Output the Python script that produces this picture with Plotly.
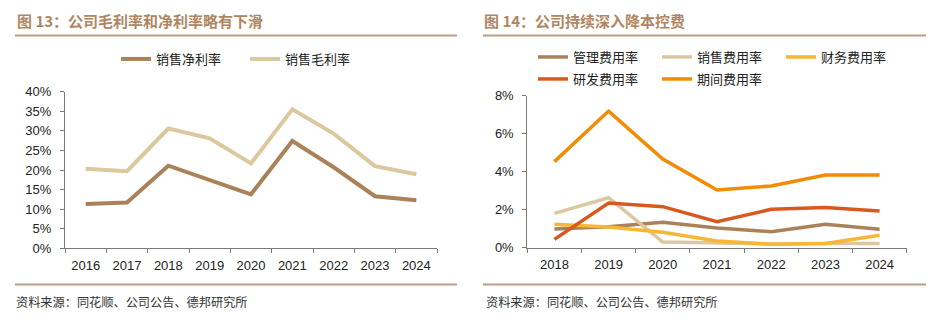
import plotly.graph_objects as go

W, H = 931, 324

# ---------------- data ----------------
years_left = ["2016", "2017", "2018", "2019", "2020", "2021", "2022", "2023", "2024"]
net_margin = [0.113, 0.117, 0.211, 0.174, 0.138, 0.274, 0.207, 0.133, 0.123]
gross_margin = [0.203, 0.197, 0.306, 0.281, 0.217, 0.355, 0.293, 0.210, 0.189]

years_right = ["2018", "2019", "2020", "2021", "2022", "2023", "2024"]
admin_rate = [0.0098, 0.0110, 0.0134, 0.0104, 0.0084, 0.0123, 0.0097]
sales_rate = [0.0181, 0.0263, 0.0030, 0.0025, 0.0020, 0.0022, 0.0022]
fin_rate = [0.0123, 0.0109, 0.0081, 0.0035, 0.0018, 0.0022, 0.0065]
rd_rate = [0.0044, 0.0235, 0.0216, 0.0137, 0.0202, 0.0212, 0.0193]
period_rate = [0.0453, 0.0719, 0.0467, 0.0304, 0.0325, 0.0383, 0.0383]

left_title = "图 13：公司毛利率和净利率略有下滑"
right_title = "图 14：公司持续深入降本控费"
source_text = "资料来源：同花顺、公司公告、德邦研究所"

# ---------------- styles ----------------
C_BROWN = "#A98259"
C_BEIGE = "#DBC89F"
C_YELLOW = "#F7B733"
C_RED = "#D9581F"
C_ORANGE = "#F28C05"
C_RULE = "#BE9E83"
C_TITLE = "#B08662"
CJK = "Noto Sans CJK SC"
LAT = "Liberation Sans, Arial, sans-serif"


def px(x):
    return x / W


def py(y):
    return 1 - y / H


fig = go.Figure()

fig.add_trace(go.Scatter(x=years_left, y=net_margin, name="销售净利率", mode="lines",
                         line=dict(color=C_BROWN, width=4), xaxis="x", yaxis="y",
                         legend="legend"))
fig.add_trace(go.Scatter(x=years_left, y=gross_margin, name="销售毛利率", mode="lines",
                         line=dict(color=C_BEIGE, width=4), xaxis="x", yaxis="y",
                         legend="legend"))

right_series = [
    ("管理费用率", admin_rate, C_BROWN, "legend2"),
    ("销售费用率", sales_rate, C_BEIGE, "legend2"),
    ("财务费用率", fin_rate, C_YELLOW, "legend2"),
    ("研发费用率", rd_rate, C_RED, "legend3"),
    ("期间费用率", period_rate, C_ORANGE, "legend3"),
]
for name, vals, col, leg in right_series:
    fig.add_trace(go.Scatter(x=years_right, y=vals, name=name, mode="lines",
                             line=dict(color=col, width=3.5), xaxis="x2", yaxis="y2",
                             legend=leg))

axis_common = dict(
    showline=True, linecolor="#7a7a7a", linewidth=1,
    ticks="outside", ticklen=4, tickcolor="#7a7a7a", tickwidth=1,
    showgrid=False, zeroline=False,
    tickfont=dict(family=LAT, size=13, color="#222222"),
)

legend_common = dict(
    orientation="h", xref="container", yref="container",
    xanchor="left", yanchor="middle",
    font=dict(family=CJK, size=13, color="#222222"),
    entrywidthmode="pixels", bgcolor="rgba(0,0,0,0)",
)

fig.update_layout(
    width=W, height=H,
    margin=dict(l=0, r=0, t=0, b=0, autoexpand=False),
    paper_bgcolor="white", plot_bgcolor="white",
    showlegend=True,
    xaxis=dict(domain=[px(65), px(437)], type="category", tickson="boundaries",
               range=[-0.5, 8.5], anchor="y", ticklabelstandoff=5, **axis_common),
    yaxis=dict(domain=[py(248.3), py(91.7)], range=[0, 0.40], dtick=0.05,
               tickformat=".0%", anchor="x", ticklabelstandoff=6, **axis_common),
    xaxis2=dict(domain=[px(527.3), px(906.7)], type="category", tickson="boundaries",
                range=[-0.5, 6.5], anchor="y2", ticklabelstandoff=5, **axis_common),
    yaxis2=dict(domain=[py(247.7), py(95.7)], range=[0, 0.08], dtick=0.02,
                tickformat=".0%", anchor="x2", ticklabelstandoff=6, **axis_common),
    legend=dict(x=px(116), y=py(59), entrywidth=84, **legend_common),
    legend2=dict(x=px(533), y=py(57), entrywidth=79, **legend_common),
    legend3=dict(x=px(533), y=py(79), entrywidth=79, **legend_common),
)

# titles
fig.add_annotation(x=px(15), y=py(21), xref="paper", yref="paper", xanchor="left",
                   yanchor="middle", showarrow=False, text="<b>" + left_title + "</b>",
                   font=dict(family=CJK, size=15, color=C_TITLE))
fig.add_annotation(x=px(482), y=py(21), xref="paper", yref="paper", xanchor="left",
                   yanchor="middle", showarrow=False, text="<b>" + right_title + "</b>",
                   font=dict(family=CJK, size=15, color=C_TITLE))

# source notes
for x0 in (14, 484):
    fig.add_annotation(x=px(x0), y=py(302), xref="paper", yref="paper", xanchor="left",
                       yanchor="middle", showarrow=False, text=source_text,
                       font=dict(family=CJK, size=12.2, color="#333333"))

# rules
for (x0, x1) in ((15, 457), (483, 926)):
    for yy in (35.5, 284.5):
        fig.add_shape(type="line", xref="paper", yref="paper",
                      x0=px(x0), x1=px(x1), y0=py(yy), y1=py(yy),
                      line=dict(color=C_RULE, width=2))

fig.write_html("out.html")
